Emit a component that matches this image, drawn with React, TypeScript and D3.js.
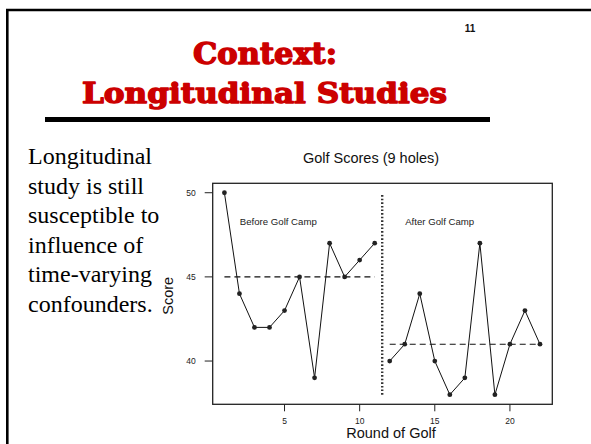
import React from "react";
import * as d3 from "d3";

const beforeRounds = [1, 2, 3, 4, 5, 6, 7, 8, 9, 10, 11];
const beforeScores = [50, 44, 42, 42, 43, 45, 39, 47, 45, 46, 47];
const afterRounds = [12, 13, 14, 15, 16, 17, 18, 19, 20, 21, 22];
const afterScores = [40, 41, 44, 40, 38, 39, 47, 38, 41, 43, 41];
const beforeMean = 45;
const afterMean = 41;
const xTicks = [5, 10, 15, 20];
const yTicks = [40, 45, 50];
const bodyLines = [
  "Longitudinal",
  "study is still",
  "susceptible to",
  "influence of",
  "time-varying",
  "confounders.",
];

export default function App() {
  const W = 591;
  const H = 444;
  const box = { l: 212.7, r: 552.3, t: 183.3, b: 404.3 };
  const x = d3.scaleLinear().domain([0.22, 22.82]).range([box.l, box.r]);
  const y = d3.scaleLinear().domain([37.43, 50.56]).range([box.b, box.t]);
  const line = d3
    .line<[number, number]>()
    .x((d) => x(d[0]))
    .y((d) => y(d[1]));
  const before: [number, number][] = beforeRounds.map((r, i) => [r, beforeScores[i]]);
  const after: [number, number][] = afterRounds.map((r, i) => [r, afterScores[i]]);
  const arial = "Liberation Sans, Arial, sans-serif";

  return (
    <svg
      width={W}
      height={H}
      style={{ position: "absolute", left: 0, top: 0, background: "#fff" }}
    >
      <rect x={0} y={0} width={W} height={H} fill="#fff" />
      {/* slide frame */}
      <line x1={7.3} y1={9} x2={7.3} y2={H} stroke="#000" strokeWidth={2.6} />
      <line x1={6} y1={10} x2={W} y2={10} stroke="#000" strokeWidth={2.4} />
      {/* page number */}
      <text x={470} y={32} fontFamily={arial} fontWeight="bold" fontSize={10} textAnchor="middle" fill="#111">
        11
      </text>
      {/* slide title */}
      <text
        x={193}
        y={64}
        fontFamily="DejaVu Serif, serif"
        fontWeight="bold"
        fontSize={29}
        fill="#cc0000"
        stroke="#cc0000"
        strokeWidth={1.4}
        strokeLinejoin="round"
        textLength={144}
        lengthAdjust="spacingAndGlyphs"
      >
        Context:
      </text>
      <text
        x={82}
        y={103}
        fontFamily="DejaVu Serif, serif"
        fontWeight="bold"
        fontSize={28}
        fill="#cc0000"
        stroke="#cc0000"
        strokeWidth={1.4}
        strokeLinejoin="round"
        textLength={365}
        lengthAdjust="spacingAndGlyphs"
      >
        Longitudinal Studies
      </text>
      <rect x={45} y={117} width={445} height={5} fill="#000" />
      {/* body text */}
      {bodyLines.map((t, i) => (
        <text
          key={t}
          x={28}
          y={164 + i * 29.6}
          fontFamily="Liberation Serif, Times New Roman, serif"
          fontSize={24}
          fill="#000"
        >
          {t}
        </text>
      ))}
      {/* chart title */}
      <text x={371} y={163} fontFamily={arial} fontSize={14.5} textAnchor="middle" fill="#111">
        Golf Scores (9 holes)
      </text>
      {/* plot box */}
      <rect
        x={box.l}
        y={box.t}
        width={box.r - box.l}
        height={box.b - box.t}
        fill="none"
        stroke="#222"
        strokeWidth={1.3}
      />
      {/* y axis */}
      {yTicks.map((v) => (
        <g key={"y" + v}>
          <line x1={box.l - 8} x2={box.l} y1={y(v)} y2={y(v)} stroke="#222" strokeWidth={1} />
          <text
            x={box.l - 17}
            y={y(v) + 3}
            fontFamily={arial}
            fontSize={8.5}
            textAnchor="end"
            fill="#222"
          >
            {v}
          </text>
        </g>
      ))}
      {/* x axis */}
      {xTicks.map((v) => (
        <g key={"x" + v}>
          <line x1={x(v)} x2={x(v)} y1={box.b} y2={box.b + 7} stroke="#222" strokeWidth={1} />
          <text x={x(v)} y={424} fontFamily={arial} fontSize={8.5} textAnchor="middle" fill="#222">
            {v}
          </text>
        </g>
      ))}
      <text x={391} y={438} fontFamily={arial} fontSize={14.5} textAnchor="middle" fill="#111">
        Round of Golf
      </text>
      <text
        transform={`translate(173, ${(box.t + box.b) / 2 + 2}) rotate(-90)`}
        fontFamily={arial}
        fontSize={14.5}
        textAnchor="middle"
        fill="#111"
      >
        Score
      </text>
      {/* separator */}
      <line
        x1={x(11.5)}
        x2={x(11.5)}
        y1={y(49.86)}
        y2={y(37.98)}
        stroke="#333"
        strokeWidth={2.4}
        strokeDasharray="1.6,2"
      />
      {/* mean lines */}
      <line
        x1={x(1)}
        x2={x(11)}
        y1={y(beforeMean)}
        y2={y(beforeMean)}
        stroke="#111"
        strokeWidth={1.1}
        strokeDasharray="6,4"
      />
      <line
        x1={x(12)}
        x2={x(22)}
        y1={y(afterMean)}
        y2={y(afterMean)}
        stroke="#111"
        strokeWidth={1.1}
        strokeDasharray="6,4"
      />
      {/* series */}
      <path d={line(before) || ""} fill="none" stroke="#111" strokeWidth={1} />
      <path d={line(after) || ""} fill="none" stroke="#111" strokeWidth={1} />
      {[...before, ...after].map((d, i) => (
        <circle key={"p" + i} cx={x(d[0])} cy={y(d[1])} r={2.4} fill="#222" />
      ))}
      {/* annotations */}
      <text
        x={278.3}
        y={225}
        fontFamily={arial}
        fontSize={9.5}
        textAnchor="middle"
        fill="#222"
        textLength={77}
        lengthAdjust="spacingAndGlyphs"
      >
        Before Golf Camp
      </text>
      <text
        x={439.7}
        y={225}
        fontFamily={arial}
        fontSize={9.5}
        textAnchor="middle"
        fill="#222"
        textLength={69}
        lengthAdjust="spacingAndGlyphs"
      >
        After Golf Camp
      </text>
    </svg>
  );
}
